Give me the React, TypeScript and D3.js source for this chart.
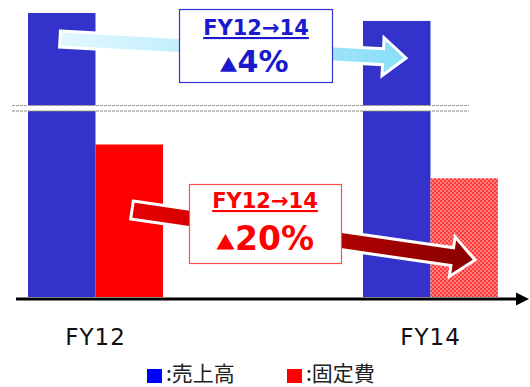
import React from "react";
import * as d3 from "d3";

const categories = ["FY12", "FY14"];
const seriesKeys = ["sales", "fixed"];
const salesValues = [100, 97.2];
const fixedValues = [53.7, 41.8];
const legendLabels = [":売上高", ":固定費"];
const changeTitle = "FY12→14";
const salesChange = "4%";
const fixedChange = "20%";

const W = 530;
const H = 387;

function arrowPath(x0: number, y0: number, x1: number, y1: number, shaftHalf: number, headHalf: number, headLen: number) {
  const dx = x1 - x0;
  const dy = y1 - y0;
  const len = Math.sqrt(dx * dx + dy * dy);
  const ux = dx / len, uy = dy / len;
  const nx = -uy, ny = ux;
  const pt = (a: number, b: number) => [x0 + ux * a + nx * b, y0 + uy * a + ny * b];
  const pts = [
    pt(0, -shaftHalf),
    pt(len - headLen, -shaftHalf),
    pt(len - headLen, -headHalf),
    pt(len, 0),
    pt(len - headLen, headHalf),
    pt(len - headLen, shaftHalf),
    pt(0, shaftHalf),
  ];
  return d3.line()(pts as [number, number][]) + "Z";
}

export default function App() {
  const x = d3.scaleBand<string>().domain(categories).range([28, 498]).paddingInner(0.597).paddingOuter(0);
  const xs = d3.scaleBand<string>().domain(seriesKeys).range([0, x.bandwidth()]);
  const y = d3.scaleLinear().domain([0, 100]).range([297, 13]);

  const font = "'DejaVu Sans', Verdana, sans-serif";
  const cjk = "'Noto Sans CJK JP', sans-serif";

  return (
    <svg width={W} height={H} style={{ position: "absolute", left: 0, top: 0 }}>
      <defs>
        <pattern id="hatch" width="4" height="4" patternUnits="userSpaceOnUse">
          <rect width="4" height="4" fill="#ff8080" />
          <rect x="0" y="0" width="2" height="2" fill="#ff3838" />
          <rect x="2" y="2" width="2" height="2" fill="#ff3838" />
        </pattern>
        <linearGradient id="blueArrow" x1="0" x2="1" y1="0" y2="0">
          <stop offset="0" stopColor="#e2f8ff" />
          <stop offset="1" stopColor="#88def8" />
        </linearGradient>
        <linearGradient id="redArrow" x1="0" x2="1" y1="0" y2="0">
          <stop offset="0" stopColor="#e60000" />
          <stop offset="1" stopColor="#8a0000" />
        </linearGradient>
      </defs>
      <rect width={W} height={H} fill="#fff" />

      {categories.map((c, i) => {
        const gx = x(c)!;
        return (
          <g key={c}>
            <rect x={gx + xs("sales")!} y={y(salesValues[i])} width={xs.bandwidth()} height={y(0) - y(salesValues[i])} fill="#3333cc" />
            <rect x={gx + xs("fixed")!} y={y(fixedValues[i])} width={xs.bandwidth()} height={y(0) - y(fixedValues[i])} fill={i === 0 ? "#ff0000" : "url(#hatch)"} />
          </g>
        );
      })}

      {/* axis break */}
      <rect x={12} y={105.5} width={457} height={5.5} fill="#fff" />
      <line x1={12} x2={469} y1={105.5} y2={105.5} stroke="#9a9a9a" strokeWidth={1} strokeDasharray="3 1" />
      <line x1={12} x2={469} y1={111} y2={111} stroke="#8a8a8a" strokeWidth={1} strokeDasharray="3 1" />

      {/* baseline axis with arrow */}
      <line x1={16} x2={518} y1={299} y2={299} stroke="#000" strokeWidth={3} />
      <path d="M516,292.5 L529,299 L516,305.5 Z" fill="#000" />

      {/* arrows */}
      <path d={arrowPath(60, 39, 406, 58, 8, 19, 23)} fill="url(#blueArrow)" stroke="#fff" strokeWidth={3} strokeLinejoin="miter" />
      <path d={arrowPath(132, 210, 475, 260, 9, 20, 23)} fill="url(#redArrow)" stroke="#fff" strokeWidth={3} strokeLinejoin="miter" />

      {/* boxes */}
      <rect x={179.5} y={9.5} width={153} height={73} fill="#fff" stroke="#3333cc" strokeWidth={1.2} />
      <text x={256} y={35} textAnchor="middle" fontFamily={font} fontWeight="bold" fontSize={21} fill="#1a1acc" textDecoration="underline">{changeTitle}</text>
      <text x={256} y={72} textAnchor="middle" fontFamily={font} fontWeight="bold" fill="#1a1acc">
        <tspan fontSize={18} fontFamily={cjk} dx={-2}>▲</tspan>
        <tspan fontSize={30} dx={0}>{salesChange}</tspan>
      </text>

      <rect x={189.5} y={184.5} width={152} height={79} fill="#fff" stroke="#ff4d4d" strokeWidth={1.2} />
      <text x={265} y={208} textAnchor="middle" fontFamily={font} fontWeight="bold" fontSize={21} fill="#ff0000" textDecoration="underline">{changeTitle}</text>
      <text x={265} y={250} textAnchor="middle" fontFamily={font} fontWeight="bold" fill="#ff0000">
        <tspan fontSize={19} fontFamily={cjk}>▲</tspan>
        <tspan fontSize={33} dx={0}>{fixedChange}</tspan>
      </text>

      {/* category labels */}
      {categories.map((c) => (
        <text key={c} x={x(c)! + x.bandwidth() / 2} y={345} textAnchor="middle" fontFamily={font} fontSize={23} letterSpacing={1} fill="#111">{c}</text>
      ))}

      {/* legend */}
      <rect x={147} y={369} width={15} height={14} fill="#0000ff" />
      <text x={166} y={381} fontFamily={cjk} fontSize={21} fill="#222">{legendLabels[0]}</text>
      <rect x={287} y={369} width={15} height={14} fill="#ff0000" />
      <text x={306} y={381} fontFamily={cjk} fontSize={21} fill="#222">{legendLabels[1]}</text>
    </svg>
  );
}
